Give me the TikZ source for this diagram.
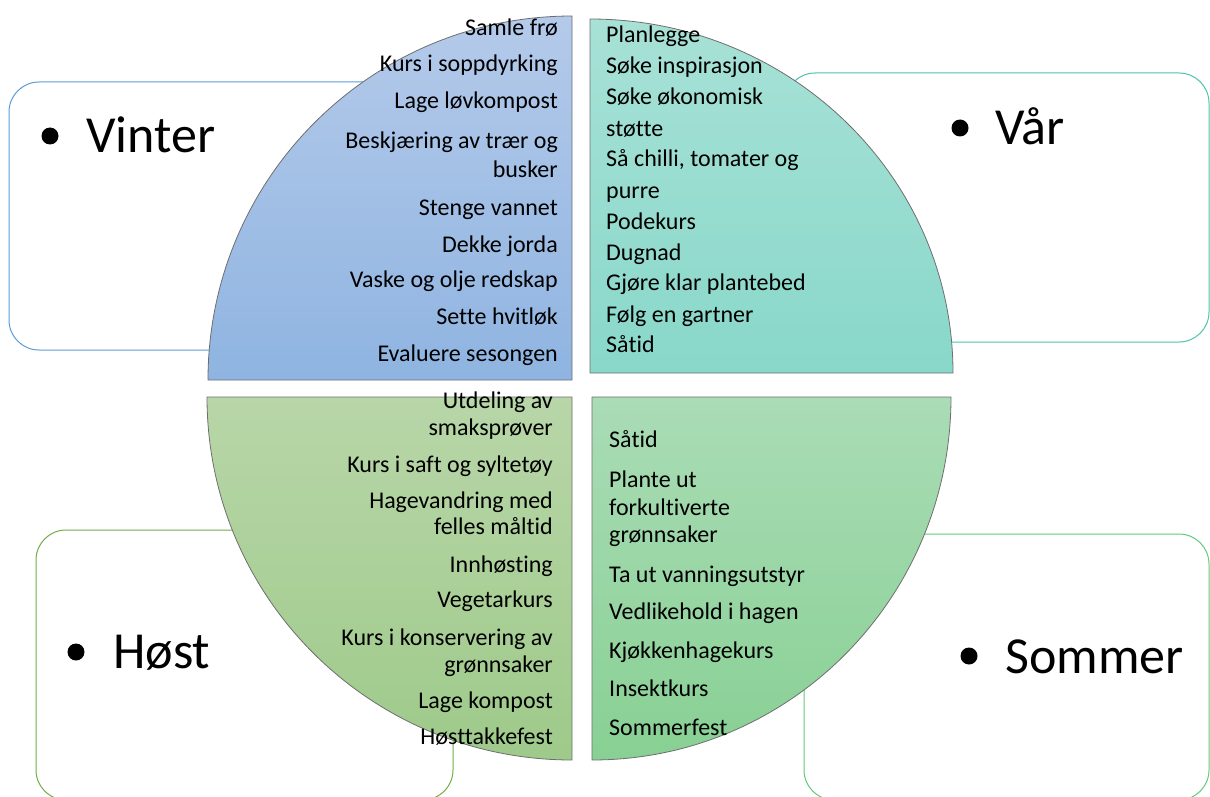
\documentclass[tikz,border=0pt]{standalone}
\usepackage{fontspec}
\setmainfont[RawFeature={-liga;-calt;-dlig;-clig}]{Carlito}
\definecolor{cWin}{RGB}{91,155,213}
\definecolor{cSpr}{RGB}{75,195,170}
\definecolor{cAut}{RGB}{112,173,71}
\definecolor{cSum}{RGB}{100,200,120}
\definecolor{wTop}{RGB}{180,202,234}
\definecolor{wBot}{RGB}{143,180,225}
\definecolor{sTop}{RGB}{168,225,214}
\definecolor{sBot}{RGB}{136,216,202}
\definecolor{aTop}{RGB}{184,214,168}
\definecolor{aBot}{RGB}{158,202,138}
\definecolor{uTop}{RGB}{170,220,182}
\definecolor{uBot}{RGB}{136,208,148}
\definecolor{qline}{RGB}{110,110,110}
\begin{document}
\begin{tikzpicture}[x=1pt,y=-1pt,
  item/.style={inner sep=0pt, font=\fontsize{24}{28}\selectfont},
  itemR/.style={item, anchor=base east},
  itemL/.style={item, anchor=base west},
  season/.style={inner sep=0pt, anchor=base west, font=\fontsize{52}{60}\selectfont},
  dot/.style={circle, fill=black, inner sep=0pt, minimum size=17pt},
  sbox/.style={rounded corners=30pt, line width=1pt},
  quad/.style={draw=qline, line width=0.8pt}]
\useasboundingbox (0,0) rectangle (1210,797);
% outer boxes
\draw[sbox, draw=cWin] (9,82) rectangle (433,350);
\draw[sbox, draw=cSpr] (785,73) rectangle (1209,342);
\draw[sbox, draw=cAut] (36,530) rectangle (453,800);
\draw[sbox, draw=cSum] (804,534) rectangle (1209,800);
% quadrants
\path[quad, top color=wTop, bottom color=wBot] (572,380) -- (208,380) arc[start angle=180, end angle=270, x radius=364, y radius=364] -- cycle;
\path[quad, top color=sTop, bottom color=sBot] (590,373) -- (590,19) arc[start angle=270, end angle=360, x radius=363, y radius=354] -- cycle;
\path[quad, top color=uTop, bottom color=uBot] (592,397) -- (951,397) arc[start angle=0, end angle=90, x radius=359, y radius=363] -- cycle;
\path[quad, top color=aTop, bottom color=aBot] (572,397) -- (572,760) arc[start angle=90, end angle=180, x radius=365, y radius=363] -- cycle;
% season labels
\node[dot] (wdot) at (50,136) {};
\node[season] (wlab) at (86,153) {Vinter};
\node[dot] (sdot) at (960,128) {};
\node[season] (slab) at (995,145) {Vår};
\node[dot] (adot) at (76,652) {};
\node[season] (alab) at (113,668) {Høst};
\node[dot] (udot) at (969,656) {};
\node[season] (ulab) at (1005,673) {Sommer};
% winter items
\foreach \t/\y [count=\i] in {Samle frø/36, Kurs i soppdyrking/72, Lage løvkompost/109, Beskjæring av trær og/149, busker/177, Stenge vannet/215, Dekke jorda/252, Vaske og olje redskap/287, Sette hvitløk/324, Evaluere sesongen/361}
  \node[itemR] (w\i) at (558,\y) {\t};
% spring items
\foreach \t/\y [count=\i] in {Planlegge/43, Søke inspirasjon/74, Søke økonomisk/105, støtte/136, {Så chilli, tomater og}/167, purre/198, Podekurs/229, Dugnad/260, Gjøre klar plantebed/290, Følg en gartner/322, Såtid/352}
  \node[itemL] (s\i) at (606,\y) {\t};
% autumn items
\foreach \t/\y [count=\i] in {Utdeling av/408, smaksprøver/435, Kurs i saft og syltetøy/472, Hagevandring med/508, felles måltid/534, Innhøsting/572, Vegetarkurs/607, Kurs i konservering av/645, grønnsaker/672, Lage kompost/708, Høsttakkefest/744}
  \node[itemR] (a\i) at (553,\y) {\t};
% summer items
\foreach \t/\y [count=\i] in {Såtid/447, Plante ut/487, forkultiverte/515, grønnsaker/542, Ta ut vanningsutstyr/582, Vedlikehold i hagen/619, Kjøkkenhagekurs/658, Insektkurs/696, Sommerfest/735}
  \node[itemL] (u\i) at (609,\y) {\t};
\end{tikzpicture}
\end{document}
